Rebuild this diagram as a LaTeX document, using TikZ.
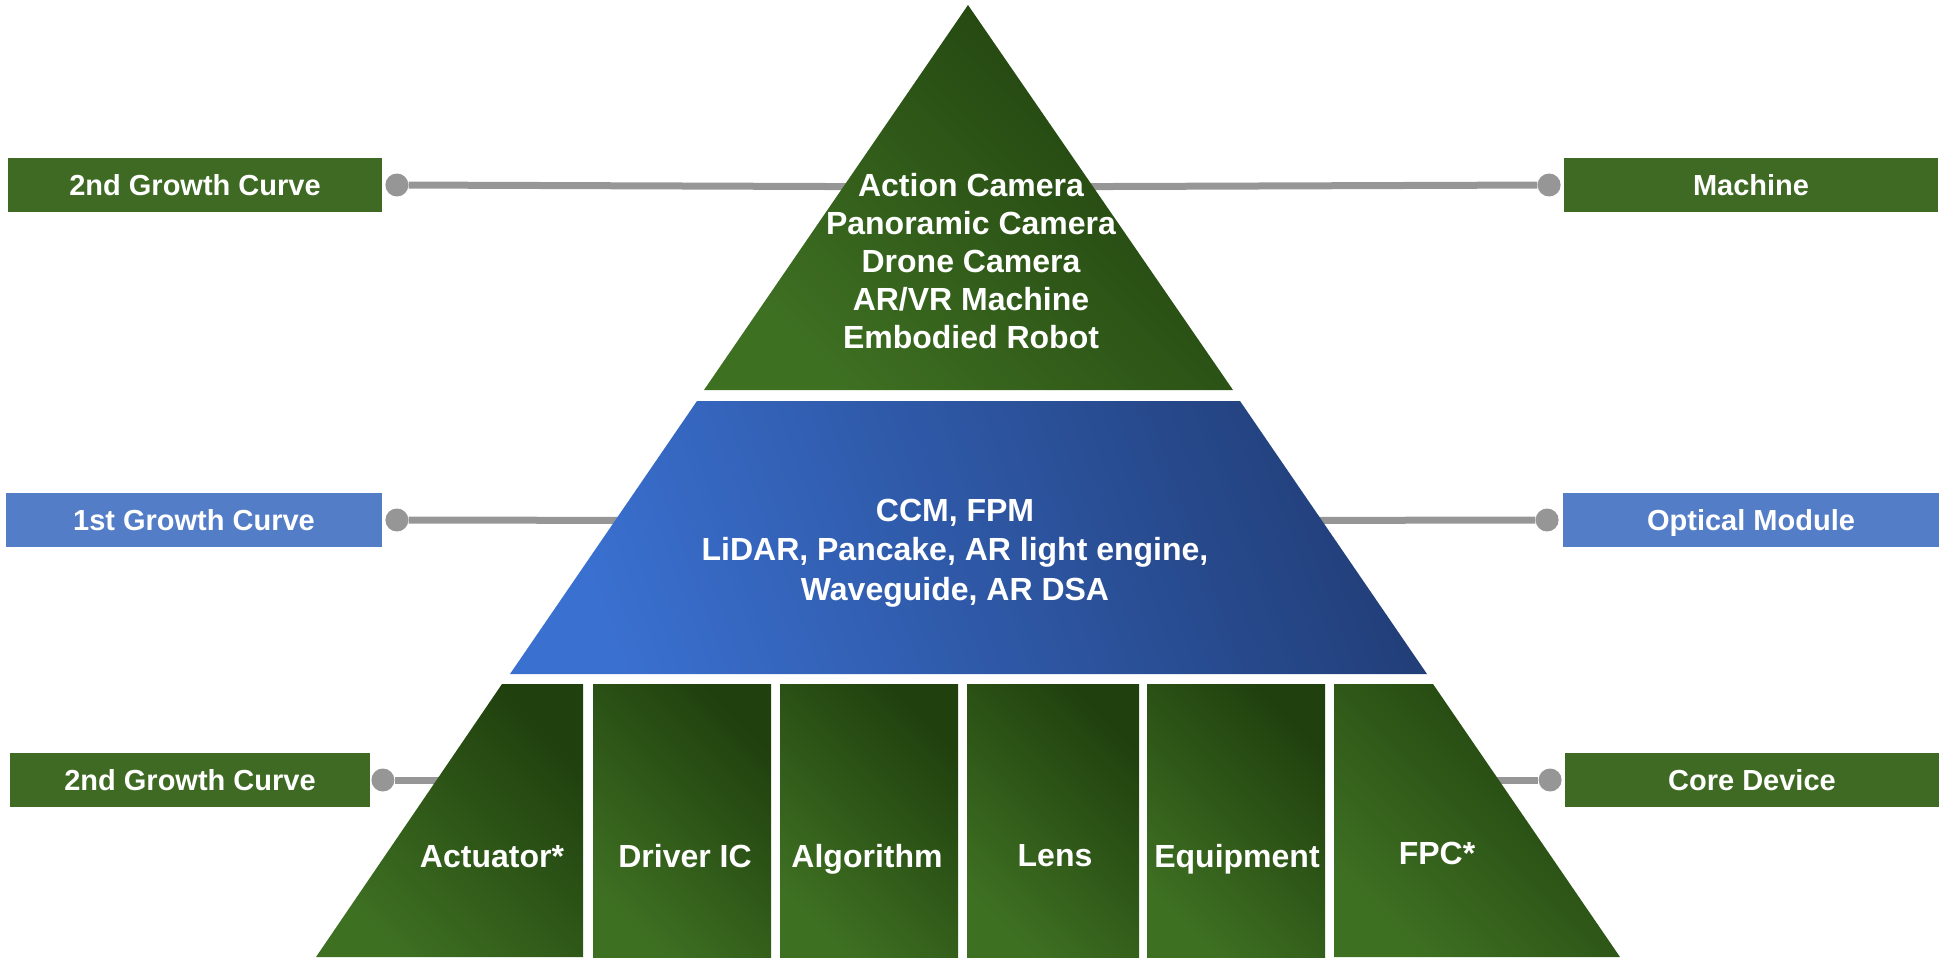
\documentclass[tikz,border=0pt]{standalone}
\usepackage{fontspec}
\setmainfont{Liberation Sans}
\usetikzlibrary{positioning}

\definecolor{taggreen}{RGB}{63,106,35}
\definecolor{tagblue}{RGB}{84,125,200}
\definecolor{linkgray}{RGB}{150,150,150}
\definecolor{leafdark}{RGB}{32,64,14}
\definecolor{leaflight}{RGB}{62,112,34}
\definecolor{seadark}{RGB}{34,63,122}
\definecolor{sealight}{RGB}{58,112,208}

\begin{document}
\begin{tikzpicture}
  [x=1pt, y=-1pt,
  tag/.style={rectangle, text=white, inner sep=0pt,
  minimum width=374pt, minimum height=54pt,
  text height=21pt, text depth=0pt,
  font=\bfseries\fontsize{29}{34}\selectfont},
  knob/.style={circle, fill=linkgray, inner sep=0pt, minimum size=23pt},
  link/.style={draw=linkgray, line width=7pt},
  leaf/.style={top color=leafdark, bottom color=leaflight, shading angle=-45},
  sea/.style={top color=seadark, bottom color=sealight, shading angle=-70},
  tiertext/.style={text=white, align=center,
  font=\bfseries\fontsize{32}{38}\selectfont},
  celltext/.style={tiertext, text height=23pt, text depth=0pt}]

  \useasboundingbox (0,0) rectangle (1949,958);

  \node [tag, fill=taggreen] (growthtop) at (195,185) {2nd Growth Curve};
  \node [tag, fill=tagblue, minimum width=376pt] (growthmid) at (194,520) {1st Growth Curve};
  \node [tag, fill=taggreen, minimum width=360pt] (growthlow) at (190,780) {2nd Growth Curve};
  \node [tag, fill=taggreen] (machine) at (1751,185) {Machine};
  \node [tag, fill=tagblue, minimum width=376pt] (optical) at (1751,520) {Optical Module};
  \node [tag, fill=taggreen] (core) at (1752,780) {Core Device};

  \node [knob, right=3pt of growthtop] (growthtopk) {};
  \node [knob, right=3pt of growthmid] (growthmidk) {};
  \node [knob, right=1pt of growthlow] (growthlowk) {};
  \node [knob, left=3pt of machine] (machinek) {};
  \node [knob, left=4pt of optical] (opticalk) {};
  \node [knob, left=3pt of core] (corek) {};

  \coordinate (topmid) at (968,187);
  \coordinate (bluemid) at (968,521);
  \coordinate (cellleft) at (530,780);
  \coordinate (cellright) at (1400,780);

  \begin{scope}[every path/.style=link]
    \path (growthtopk) -- (topmid);
    \path (machinek) -- (topmid);
    \path (growthmidk) -- (bluemid);
    \path (opticalk) -- (bluemid);
    \path (growthlowk) -- (cellleft);
    \path (corek) -- (cellright);
  \end{scope}

  \shade [leaf] (968,5) -- (1233,390) -- (704,390) -- cycle;
  \shade [sea] (697,401) -- (1240,401) -- (1427,674) -- (510,674) -- cycle;
  \shade [leaf] (502,684) -- (583,684) -- (583,957) -- (316,957) -- cycle;
  \shade [leaf] (593,684) rectangle (771,957);
  \shade [leaf] (780,684) rectangle (958,957);
  \shade [leaf] (967,684) rectangle (1139,957);
  \shade [leaf] (1147,684) rectangle (1325,957);
  \shade [leaf] (1334,684) -- (1433,684) -- (1620,957) -- (1334,957) -- cycle;

  \node [tiertext] (machines) at (971,261)
    {Action Camera\\Panoramic Camera\\Drone Camera\\AR/VR Machine\\Embodied Robot};
  \node [tiertext, font=\bfseries\fontsize{32}{39.5}\selectfont] (modules) at (955,553)
    {CCM, FPM\\LiDAR, Pancake, AR light engine,\\Waveguide, AR DSA};

  \node [celltext] (actuator) at (492,856) {Actuator*};
  \node [celltext] (driver) at (685,856) {Driver IC};
  \node [celltext] (algorithm) at (867,856) {Algorithm};
  \node [celltext] (lens) at (1055,855) {Lens};
  \node [celltext] (equipment) at (1237,856) {Equipment};
  \node [celltext] (fpc) at (1437,853) {FPC*};
\end{tikzpicture}
\end{document}
